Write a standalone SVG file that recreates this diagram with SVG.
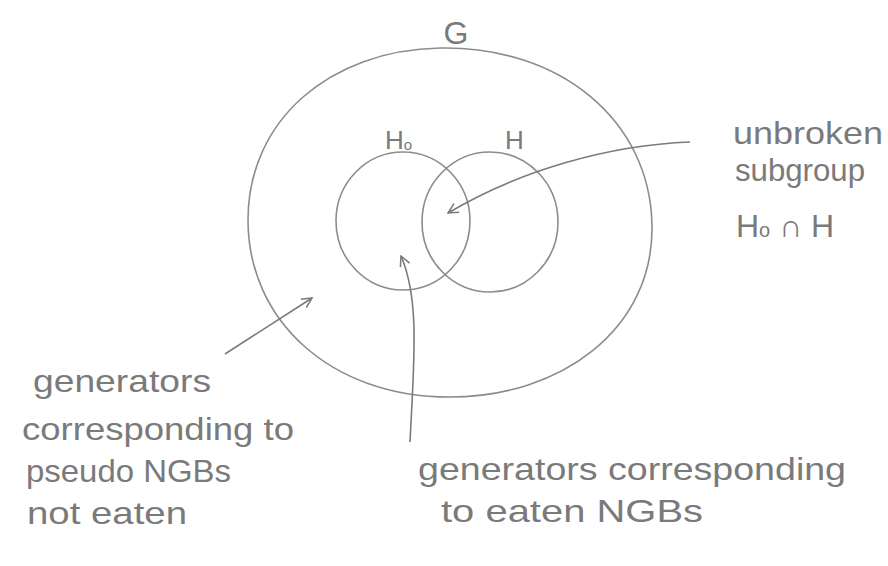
<svg xmlns="http://www.w3.org/2000/svg" width="888" height="566" viewBox="0 0 888 566">
  <style>
    .shape { fill: none; stroke: #8c8c8c; stroke-width: 1.6; }
    .conn { fill: none; stroke: #7a7a7a; stroke-width: 1.6; }
    .lbl { font-family: "Liberation Sans", "DejaVu Sans", sans-serif; fill: #7a7a7a; font-size: 32px; }
    .sm { font-size: 26px; }
  </style>
  <defs>
    <marker id="arr" viewBox="0 0 12 12" refX="11" refY="6" markerWidth="12" markerHeight="12" markerUnits="userSpaceOnUse" orient="auto">
      <path d="M1,1 L11,6 L1,11" fill="none" stroke="#7a7a7a" stroke-width="1.5"/>
    </marker>
  </defs>
  <rect width="888" height="566" fill="#ffffff"/>

  <g id="G">
    <path class="shape" d="M440,48 C560,46 650,120 652,225 C654,330 560,397 450,397 C330,397 248,320 248,220 C248,120 330,50 440,48 Z"/>
    <text class="lbl" x="456" y="44" text-anchor="middle">G</text>
  </g>

  <g id="H0">
    <ellipse class="shape" cx="403" cy="221" rx="67" ry="69"/>
    <text class="lbl sm" x="385" y="149">H<tspan font-size="15" dy="1">o</tspan></text>
  </g>

  <g id="H">
    <ellipse class="shape" cx="490" cy="222" rx="68" ry="70"/>
    <text class="lbl sm" x="505" y="149">H</text>
  </g>

  <g id="label-unbroken">
    <text class="lbl" x="733" y="144" textLength="150" lengthAdjust="spacingAndGlyphs">unbroken</text>
    <text class="lbl" x="735" y="181" textLength="130" lengthAdjust="spacingAndGlyphs">subgroup</text>
    <text class="lbl" x="736" y="237">H<tspan font-size="20">o</tspan> ∩ H</text>
  </g>

  <g id="label-not-eaten">
    <text class="lbl" x="33" y="392" textLength="178" lengthAdjust="spacingAndGlyphs">generators</text>
    <text class="lbl" x="22" y="440" textLength="272" lengthAdjust="spacingAndGlyphs">corresponding to</text>
    <text class="lbl" x="26" y="482" textLength="205" lengthAdjust="spacingAndGlyphs">pseudo NGBs</text>
    <text class="lbl" x="27" y="524" textLength="160" lengthAdjust="spacingAndGlyphs">not eaten</text>
  </g>

  <g id="label-eaten">
    <text class="lbl" x="418" y="480" textLength="428" lengthAdjust="spacingAndGlyphs">generators corresponding</text>
    <text class="lbl" x="441" y="522" textLength="262" lengthAdjust="spacingAndGlyphs">to eaten NGBs</text>
  </g>

  <g id="connectors">
    <path class="conn" d="M690,142 C610,145 520,170 448,213" marker-end="url(#arr)"/>
    <path class="conn" d="M410,442 C414,360 420,300 401,256" marker-end="url(#arr)"/>
    <path class="conn" d="M225,354 L312,298" marker-end="url(#arr)"/>
  </g>
</svg>
